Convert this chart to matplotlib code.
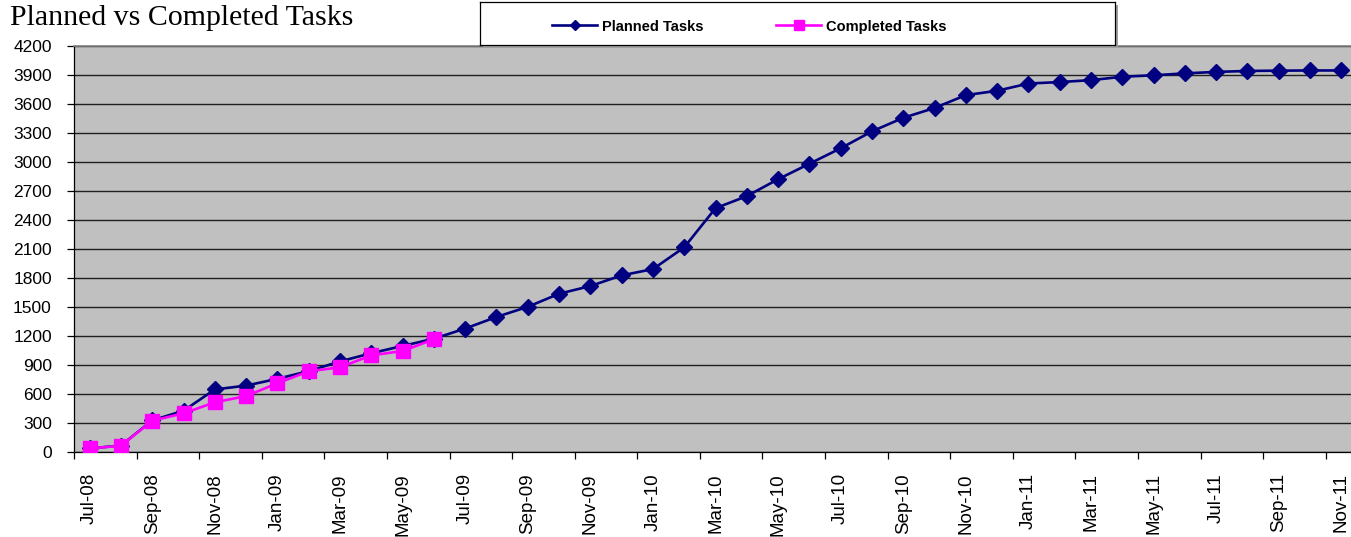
import matplotlib
matplotlib.use("Agg")
import matplotlib.pyplot as plt
from matplotlib.lines import Line2D
from matplotlib.patches import Rectangle

months = ["Jul-08", "Aug-08", "Sep-08", "Oct-08", "Nov-08", "Dec-08",
          "Jan-09", "Feb-09", "Mar-09", "Apr-09", "May-09", "Jun-09",
          "Jul-09", "Aug-09", "Sep-09", "Oct-09", "Nov-09", "Dec-09",
          "Jan-10", "Feb-10", "Mar-10", "Apr-10", "May-10", "Jun-10",
          "Jul-10", "Aug-10", "Sep-10", "Oct-10", "Nov-10", "Dec-10",
          "Jan-11", "Feb-11", "Mar-11", "Apr-11", "May-11", "Jun-11",
          "Jul-11", "Aug-11", "Sep-11", "Oct-11", "Nov-11"]

planned = [40, 70, 330, 430, 650, 690,
           760, 840, 940, 1025, 1100, 1175,
           1280, 1400, 1505, 1640, 1720, 1830,
           1895, 2120, 2525, 2650, 2825, 2985,
           3145, 3320, 3460, 3562, 3695, 3740,
           3815, 3830, 3850, 3885, 3900, 3920,
           3935, 3945, 3948, 3950, 3950]

completed = [40, 68, 327, 403, 517, 582,
             714, 838, 879, 1003, 1048, 1169]

yticks = list(range(0, 4201, 300))

W, H = 1351, 537
fig = plt.figure(figsize=(W / 100, H / 100), dpi=100)
fig.patch.set_facecolor("white")

left_px, right_px, top_px, bot_px = 74, 1357, 46.3, 452.3
ax = fig.add_axes([left_px / W, (H - bot_px) / H, (right_px - left_px) / W, (bot_px - top_px) / H])
ax.set_facecolor("#C0C0C0")

x_p = list(range(len(planned)))
x_c = list(range(len(completed)))
l1, = ax.plot(x_p, planned, color="#000080", lw=1.9, marker="D", markersize=8.5,
              markerfacecolor="#000080", markeredgecolor="#000080", zorder=3)
l2, = ax.plot(x_c, completed, color="#FF00FF", lw=1.9, marker="s", markersize=10.5,
              markerfacecolor="#FF00FF", markeredgecolor="#FF00FF", zorder=4)

ax.set_xlim(-0.5, len(months) - 0.5)
ax.set_ylim(0, 4200)
ax.set_yticks(yticks)
ax.set_yticklabels([str(v) for v in yticks], fontsize=12.5, family="Liberation Sans")
ax.yaxis.grid(True, color="#202020", lw=1.0)
ax.set_axisbelow(True)

# major ticks at category boundaries every 2 categories; labels on minor
ax.set_xticks([i - 0.5 for i in range(0, len(months) + 1, 2)])
ax.set_xticklabels([])
ax.set_xticks(list(range(0, len(months), 2)), minor=True)
ax.set_xticklabels(months[::2], minor=True, rotation=90, fontsize=13.5,
                   family="Liberation Sans")
ax.tick_params(axis="x", which="major", direction="out", length=5, width=0.9)
ax.tick_params(axis="x", which="minor", length=0, pad=15)
ax.tick_params(axis="y", direction="out", length=5, width=0.9, pad=11)

for s in ["left", "bottom"]:
    ax.spines[s].set_color("black")
    ax.spines[s].set_linewidth(0.9)
ax.spines["top"].set_color("#808080")
ax.spines["top"].set_linewidth(1.2)
ax.spines["right"].set_visible(False)

fig.text(10 / W, 1 - 18 / H, "Planned vs Completed Tasks", fontsize=21.5,
         family="Liberation Serif", va="center", ha="left", color="black")

# legend box with shadow
lx0, lx1, ly0, ly1 = 480, 1115, 2, 45
shadow = Rectangle(((lx0 + 3) / W, (H - ly1 - 3) / H), (lx1 - lx0) / W, (ly1 - ly0) / H,
                   transform=fig.transFigure, facecolor="#A0A0A0", edgecolor="none", zorder=5)
fig.patches.append(shadow)
lax = fig.add_axes([lx0 / W, (H - ly1) / H, (lx1 - lx0) / W, (ly1 - ly0) / H], zorder=6)
lax.set_facecolor("white")
lax.set_xticks([])
lax.set_yticks([])
for s in lax.spines.values():
    s.set_color("black")
    s.set_linewidth(0.9)
h1 = Line2D([], [], color="#000080", lw=1.9, marker="D", markersize=5)
h2 = Line2D([], [], color="#FF00FF", lw=1.9, marker="s", markersize=7)
lax.legend([h1, h2], ["Planned Tasks", "Completed Tasks"], loc="center left",
           bbox_to_anchor=((553 - lx0 - 1) / (lx1 - lx0), 0.43), ncol=2,
           frameon=False, handlelength=3.1, columnspacing=5.0, handletextpad=0.3,
           borderpad=0, borderaxespad=0,
           prop={"family": "Liberation Sans", "weight": "bold", "size": 10.5})

fig.savefig("out.png", dpi=100)
